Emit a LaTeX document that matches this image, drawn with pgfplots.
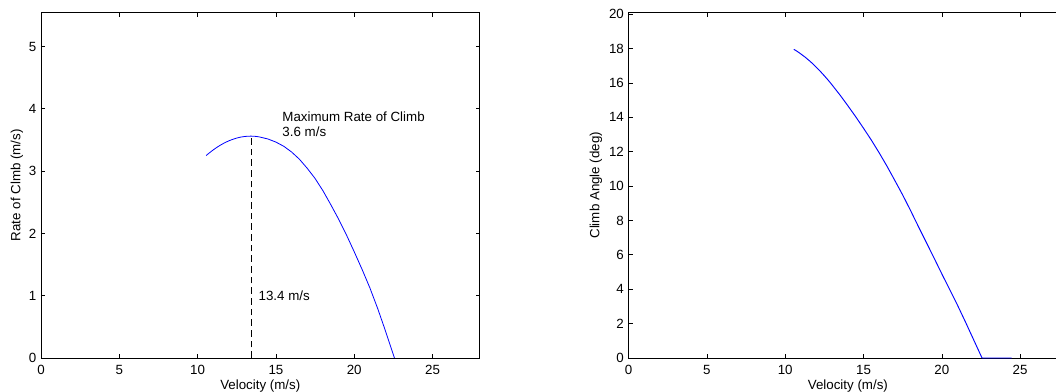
\documentclass[border=0pt]{standalone}
\usepackage{pgfplots}
\pgfplotsset{compat=1.18}
\usepackage{fontspec}
\setmainfont{Liberation Sans}

\pgfplotstableread{
V RC
10.55 3.251
10.75 3.293
11.0 3.341
11.25 3.385
11.5 3.424
11.75 3.458
12.0 3.487
12.25 3.511
12.5 3.531
12.75 3.546
13.0 3.556
13.2 3.560
13.4 3.562
13.6 3.560
13.8 3.555
14.0 3.546
14.5 3.515
15.0 3.466
15.5 3.399
16.0 3.307
16.5 3.191
17.0 3.045
17.5 2.882
18.0 2.686
18.5 2.463
19.0 2.230
19.5 1.977
20.0 1.705
20.5 1.423
21.0 1.125
21.5 0.792
22.0 0.430
22.5 0.051
22.565 0.0
}\rctable

\pgfplotstableread{
V G
10.55 17.95
10.75 17.84
11.0 17.68
11.25 17.51
11.5 17.32
11.75 17.12
12.0 16.89
12.25 16.66
12.5 16.41
12.75 16.15
13.0 15.87
13.5 15.29
14.0 14.67
14.5 14.03
15.0 13.36
15.5 12.67
16.0 11.93
16.5 11.15
17.0 10.32
17.5 9.48
18.0 8.58
18.5 7.65
19.0 6.74
19.5 5.82
20.0 4.89
20.5 3.98
21.0 3.07
21.5 2.11
22.0 1.12
22.5 0.13
22.565 0.0
23.0 0.0
23.5 0.0
24.0 0.0
24.45 0.0
}\gammatable

\pgfplotsset{
  matlab/.style={
    scale only axis,
    width=328.9pt, height=259.1pt,
    xmin=0, xmax=28,
    xtick={0,5,10,15,20,25},
    tick align=inside,
    major tick length=3pt,
    axis line style={line width=0.6pt},
    every tick/.style={black, line width=0.5pt},
    tick label style={font=\fontsize{10}{12}\selectfont},
    label style={font=\fontsize{10}{12}\selectfont},
    /pgf/number format/assume math mode=true,
    xticklabel style={yshift=-2pt},
    every axis x label/.style={at={(axis description cs:0.5,-0.081)}, anchor=center},
    xlabel={Velocity (m/s)},
  }
}

\begin{document}
\begin{tikzpicture}
\path[use as bounding box] (0,0) rectangle (792pt,294pt);
\clip (0,0) rectangle (792pt,294pt);

\begin{axis}[matlab,
  at={(30.75pt,25.5pt)}, anchor=south west,
  ymin=0, ymax=5.546,
  ytick={0,1,2,3,4,5},
  every axis y label/.style={at={(axis description cs:-0.0547,0.5)}, rotate=90, anchor=center},
  ylabel={Rate of Clmb (m/s)},
  clip=true,
]
\addplot[blue, line width=0.6pt] table[x=V, y=RC] {\rctable};
\addplot[black, line width=0.5pt, dash pattern=on 5pt off 3pt] coordinates {(13.4,0) (13.4,3.562)};
\node[anchor=west, align=left, inner sep=0pt, font=\fontsize{10}{11.5}\selectfont] at (axis cs:15.4,3.756) {Maximum Rate of Climb\\3.6 m/s};
\node[anchor=west, inner sep=0pt, font=\fontsize{10}{12}\selectfont] at (axis cs:13.88,1.0) {13.4 m/s};
\end{axis}

\begin{axis}[matlab,
  at={(471.45pt,25.5pt)}, anchor=south west,
  ymin=0, ymax=20.09,
  ytick={0,2,4,6,8,10,12,14,16,18,20},
  every axis y label/.style={at={(axis description cs:-0.0743,0.5)}, rotate=90, anchor=center},
  ylabel={Climb Angle (deg)},
  clip=false,
]
\addplot[blue, line width=0.7pt] table[x=V, y=G] {\gammatable};
\end{axis}
\end{tikzpicture}
\end{document}
